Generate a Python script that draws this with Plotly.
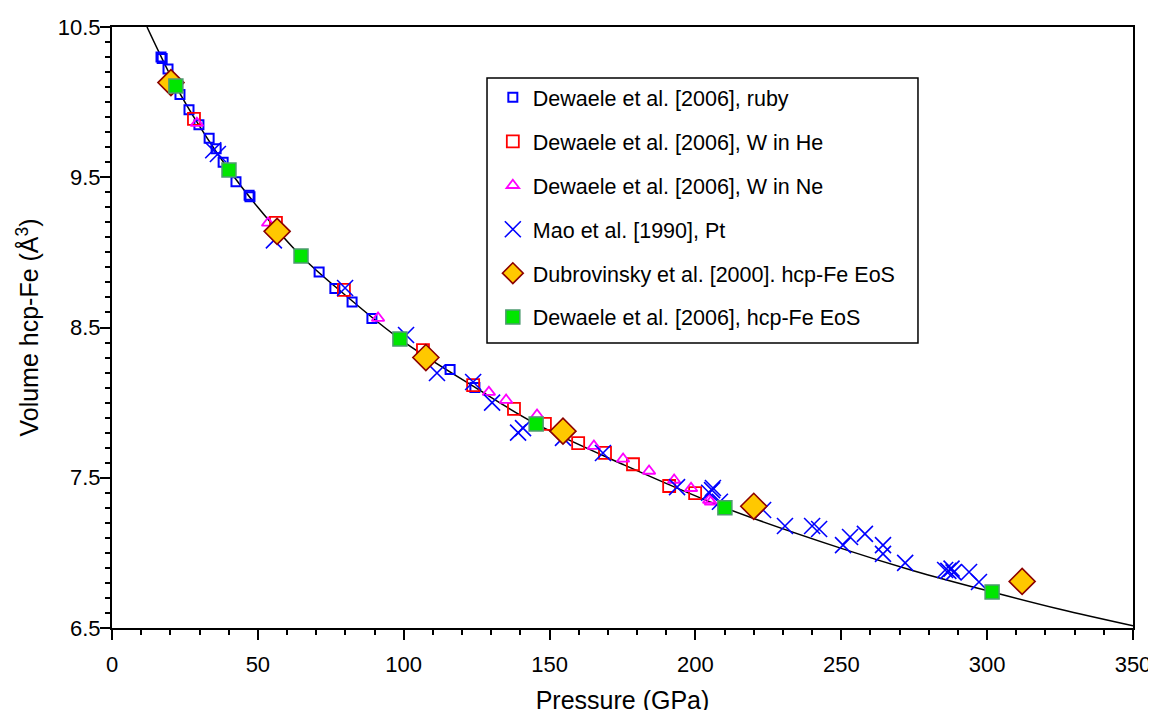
import plotly.graph_objects as go

# ---- data ----
ruby_p = [16.8, 17.2, 19.2, 23.3, 26.4, 29.8, 33.3, 35.7, 38.1, 42.5, 47.0, 47.3,
          71.0, 76.4, 82.3, 89.1, 115.9, 124.4]
ruby_v = [10.30, 10.29, 10.22, 10.05, 9.95, 9.85, 9.76, 9.69, 9.60, 9.47, 9.38, 9.37,
          8.87, 8.76, 8.67, 8.56, 8.22, 8.10]

whe_p = [28.1, 56.2, 79.5, 106.6, 123.8, 137.8, 148.4, 159.8, 169.0, 178.6, 191.0, 199.9]
whe_v = [9.888, 9.196, 8.75, 8.35, 8.117, 7.958, 7.858, 7.73, 7.665, 7.59, 7.445, 7.398]

wne_p = [29.1, 53.5, 91.2, 129.2, 135.1, 145.7, 165.2, 175.2, 184.1, 192.7, 198.5, 204.7, 205.3]
wne_v = [9.86, 9.196, 8.563, 8.07, 8.017, 7.918, 7.711, 7.625, 7.545, 7.485, 7.43, 7.352, 7.34]

mao_p = [34.7, 36.3, 55.5, 79.9, 100.8, 111.4, 123.8, 130.3, 139.2, 140.9, 154.6, 168.3,
         193.7, 204.7, 205.7, 206.0, 208.4, 223.2, 230.7, 240.0, 242.4, 250.6, 253.0,
         258.1, 264.3, 264.3, 271.9, 285.6, 286.7, 287.8, 288.5, 293.8, 297.2]
mao_v = [9.68, 9.655, 9.08, 8.763, 8.45, 8.197, 8.137, 8.0, 7.80, 7.83, 7.765, 7.665,
         7.438, 7.40, 7.418, 7.432, 7.34, 7.285, 7.179, 7.179, 7.159, 7.052, 7.106,
         7.126, 7.052, 6.993, 6.933, 6.886, 6.88, 6.895, 6.87, 6.873, 6.806]

dub_p = [20.2, 56.6, 107.6, 154.6, 220.0, 312.0]
dub_v = [10.13, 9.14, 8.30, 7.81, 7.31, 6.81]

dew_p = [21.9, 40.1, 64.8, 98.7, 145.4, 210.1, 301.7]
dew_v = [10.107, 9.548, 8.976, 8.423, 7.858, 7.30, 6.74]

curve_p = [12, 21.9, 30, 40.1, 50, 64.8, 80, 98.7, 125, 145.4, 175, 210.1, 250, 275, 301.7, 325, 350]
curve_v = [10.50, 10.107, 9.84, 9.548, 9.30, 8.976, 8.715, 8.423, 8.095, 7.858, 7.59, 7.30,
           7.03, 6.88, 6.74, 6.625, 6.515]

names = ["Dewaele et al. [2006], ruby",
         "Dewaele et al. [2006], W in He",
         "Dewaele et al. [2006], W in Ne",
         "Mao et al. [1990], Pt",
         "Dubrovinsky et al. [2000]. hcp-Fe EoS",
         "Dewaele et al. [2006], hcp-Fe EoS"]

FONT = "Liberation Sans, Arial, sans-serif"

fig = go.Figure()

fig.add_trace(go.Scatter(x=curve_p, y=curve_v, mode="lines", line=dict(color="black", width=1.5, shape="spline"),
                         showlegend=False, hoverinfo="skip"))

fig.add_trace(go.Scatter(x=ruby_p, y=ruby_v, mode="markers", name=names[0], legendgroup="g1",
                         marker=dict(symbol="square-open", size=9, color="#0000FF", line=dict(width=2))))
fig.add_trace(go.Scatter(x=whe_p, y=whe_v, mode="markers", name=names[1], legendgroup="g2",
                         marker=dict(symbol="square-open", size=12, color="#FF0000", line=dict(width=1.8))))
fig.add_trace(go.Scatter(x=wne_p, y=wne_v, mode="markers", name=names[2], legendgroup="g3",
                         marker=dict(symbol="triangle-up-open", size=11, color="#FF00FF", line=dict(width=1.8))))
fig.add_trace(go.Scatter(x=mao_p, y=mao_v, mode="markers", name=names[3], legendgroup="g4",
                         marker=dict(symbol="x-thin-open", size=16, color="#0000FF", line=dict(width=1.6, color="#0000FF"))))
fig.add_trace(go.Scatter(x=dub_p, y=dub_v, mode="markers", name=names[4], legendgroup="g5",
                         marker=dict(symbol="diamond", size=20, color="#FFC800", line=dict(width=1.6, color="#8B0000"))))
fig.add_trace(go.Scatter(x=dew_p, y=dew_v, mode="markers", name=names[5], legendgroup="g6",
                         marker=dict(symbol="square", size=14, color="#00E600", line=dict(width=1.5, color="#4E9A70"))))

axis_common = dict(showline=True, linewidth=2, linecolor="black", mirror=True, showgrid=False,
                   zeroline=False, ticks="outside", ticklen=10, tickwidth=1.5, tickcolor="black",
                   automargin=False,
                   tickfont=dict(family=FONT, size=22, color="black"))

fig.update_layout(
    width=1156, height=710,
    margin=dict(l=104, r=31, t=19, b=90),
    paper_bgcolor="white", plot_bgcolor="white",
    font=dict(family=FONT, color="black"),
    xaxis=dict(range=[0, 350], tick0=0, dtick=50, ticklabelstandoff=6,
               minor=dict(dtick=10, ticks="outside", ticklen=5, tickwidth=1.5, tickcolor="black", showgrid=False),
               title=dict(text="Pressure (GPa)", font=dict(family=FONT, size=25, color="black"), standoff=15),
               **axis_common),
    yaxis=dict(range=[6.5, 10.5], tick0=0.5, dtick=1, tickformat=".1f", ticklabelstandoff=-5,
               minor=dict(dtick=0.1, ticks="outside", ticklen=5, tickwidth=1.5, tickcolor="black", showgrid=False),
               title=dict(text="Volume hcp-Fe (Å<sup>3</sup>)", font=dict(family=FONT, size=25, color="black"), standoff=12),
               **axis_common),
    legend=dict(x=0.373, y=0.917, xanchor="left", yanchor="top", bgcolor="rgba(0,0,0,0)",
                borderwidth=0, font=dict(family=FONT, size=21.5, color="black"),
                tracegroupgap=13, traceorder="grouped", itemsizing="trace"),
    shapes=[dict(type="rect", xref="paper", yref="paper", x0=0.3673, x1=0.7894, y0=0.4742, y1=0.9151,
                 line=dict(color="black", width=1.5), fillcolor="white", layer="below")],
)

fig.write_html("out.html")
